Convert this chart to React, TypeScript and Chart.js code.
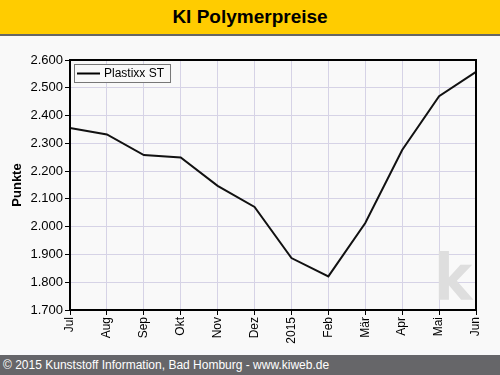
import React, { useEffect, useRef } from "react";
import { Chart, registerables } from "chart.js";

Chart.register(...registerables);

const categories = ["Jul", "Aug", "Sep", "Okt", "Nov", "Dez", "2015", "Feb", "Mär", "Apr", "Mai", "Jun"];
const plastixxST = [2355, 2332, 2258, 2249, 2147, 2071, 1887, 1821, 2013, 2276, 2470, 2557];
const yMin = 1700;
const yMax = 2600;
const yStep = 100;
const seriesName = "Plastixx ST";
const titleText = "KI Polymerpreise";
const axisTitle = "Punkte";
const footerText = "© 2015 Kunststoff Information, Bad Homburg - www.kiweb.de";

const FONT = "'Liberation Sans', Arial, sans-serif";

function fmt(v: number): string {
  const s = String(Math.round(v));
  return s.length > 3 ? s.slice(0, s.length - 3) + "." + s.slice(s.length - 3) : s;
}

const boxPlugin = {
  id: "boxPlugin",
  beforeDatasetsDraw(chart: any) {
    const { ctx, chartArea } = chart;
    ctx.save();
    // watermark
    ctx.fillStyle = "#dedede";
    ctx.font = "bold 64px 'DejaVu Sans Condensed', " + FONT;
    ctx.textAlign = "left";
    ctx.textBaseline = "alphabetic";
    ctx.fillText("k", chartArea.right - 42, chartArea.bottom - 10);
    ctx.restore();
  },
  afterDatasetsDraw(chart: any) {
    const { ctx, chartArea } = chart;
    ctx.save();
    ctx.strokeStyle = "#000";
    ctx.lineWidth = 2;
    ctx.strokeRect(chartArea.left, chartArea.top, chartArea.right - chartArea.left, chartArea.bottom - chartArea.top);
    // legend box
    const lx = chartArea.left + 4;
    const ly = chartArea.top + 4;
    ctx.font = "12px " + FONT;
    const tw = ctx.measureText(seriesName).width;
    const w = 30 + tw + 6;
    const h = 18;
    ctx.fillStyle = "#f9f9f9";
    ctx.fillRect(lx, ly, w, h);
    ctx.strokeStyle = "#777";
    ctx.lineWidth = 1;
    ctx.strokeRect(lx + 0.5, ly + 0.5, w, h);
    ctx.strokeStyle = "#000";
    ctx.lineWidth = 2;
    ctx.beginPath();
    ctx.moveTo(lx + 3, ly + 9.5);
    ctx.lineTo(lx + 26, ly + 9.5);
    ctx.stroke();
    ctx.fillStyle = "#000";
    ctx.textBaseline = "middle";
    ctx.fillText(seriesName, lx + 30, ly + 10);
    ctx.restore();
  },
};

export default function App() {
  const ref = useRef<HTMLCanvasElement | null>(null);

  useEffect(() => {
    document.body.style.margin = "0";
    const canvas = ref.current;
    if (!canvas) return;
    const chart = new Chart(canvas, {
      type: "line",
      data: {
        labels: categories,
        datasets: [
          {
            label: seriesName,
            data: plastixxST,
            borderColor: "#111",
            borderWidth: 2,
            pointRadius: 0,
            tension: 0,
            fill: false,
          },
        ],
      },
      options: {
        animation: false,
        responsive: false,
        maintainAspectRatio: false,
        layout: { padding: { top: 60, right: 24, bottom: 20, left: 0 } },
        plugins: { legend: { display: false }, tooltip: { enabled: false } },
        scales: {
          x: {
            type: "category",
            offset: false,
            afterFit: (s: any) => {
              s.height = 45;
            },
            grid: { color: "#d6d3e6", lineWidth: 1, tickLength: 5, tickColor: "#000", drawTicks: true },
            border: { color: "#000", width: 2 },
            ticks: {
              autoSkip: false,
              maxRotation: 90,
              minRotation: 90,
              padding: 2,
              color: "#000",
              font: { family: FONT, size: 12 },
            },
          },
          y: {
            min: yMin,
            max: yMax,
            afterFit: (s: any) => {
              s.width = 70;
            },
            title: {
              display: true,
              text: axisTitle,
              color: "#000",
              font: { family: FONT, size: 13, weight: "bold" },
              padding: { top: 10, bottom: 0 },
            },
            grid: { color: "#d6d3e6", lineWidth: 1, tickLength: 5, tickColor: "#000", drawTicks: true },
            border: { color: "#000", width: 2 },
            ticks: {
              stepSize: yStep,
              padding: 2,
              color: "#000",
              font: { family: FONT, size: 13 },
              callback: (v: any) => fmt(Number(v)),
            },
          },
        },
      },
      plugins: [boxPlugin],
    });
    return () => chart.destroy();
  }, []);

  return (
    <div style={{ position: "relative", width: 500, height: 375, background: "#f9f9f9", overflow: "hidden", fontFamily: FONT }}>
      <div
        style={{
          position: "absolute",
          left: 0,
          top: 0,
          width: 500,
          height: 34,
          background: "#ffcc00",
          borderBottom: "2px solid #666",
          textAlign: "center",
          fontWeight: "bold",
          fontSize: 19,
          lineHeight: "34px",
          color: "#000",
        }}
      >
        {titleText}
      </div>
      <div
        style={{
          position: "absolute",
          left: 0,
          top: 355,
          width: 500,
          height: 20,
          background: "#666669",
          color: "#fff",
          fontSize: 12,
          lineHeight: "20px",
          paddingLeft: 3,
          boxSizing: "border-box",
        }}
      >
        {footerText}
      </div>
      <canvas ref={ref} width={500} height={375} style={{ position: "absolute", left: 0, top: 0, width: 500, height: 375 }} />
    </div>
  );
}
